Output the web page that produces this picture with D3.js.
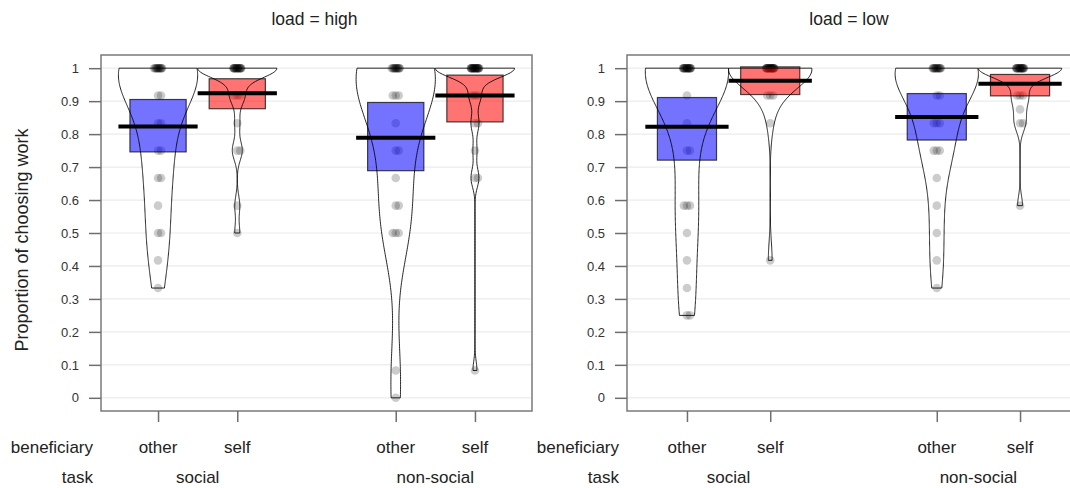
<!DOCTYPE html>
<html>
<head>
<meta charset="utf-8">
<script src="https://cdn.jsdelivr.net/npm/d3@7"></script>
<style>
  body { margin: 0; background: #fff; }
  text { font-family: "Liberation Sans", Arial, sans-serif; }
</style>
</head>
<body>
<svg id="chart" width="1070" height="488"></svg>
<script>
const loads = ['high', 'low'];
const taskLabels = ['social', 'non-social'];
const beneficiaryLabels = ['other', 'self', 'other', 'self'];
const groupPos = [1, 2, 4, 5];
const taskPos = [1.5, 4.5];
const yTicks = [0, 0.1, 0.2, 0.3, 0.4, 0.5, 0.6, 0.7, 0.8, 0.9, 1];

// points as [value, count] pairs
const highSocialOther = [[1, 12], [0.917, 2], [0.833, 2], [0.75, 2], [0.667, 2], [0.583, 1], [0.5, 2], [0.417, 1], [0.333, 1]];
const highSocialSelf = [[1, 16], [0.917, 3], [0.833, 1], [0.75, 2], [0.583, 1], [0.5, 1]];
const highNonSocialOther = [[1, 12], [0.917, 3], [0.833, 1], [0.75, 2], [0.667, 1], [0.583, 2], [0.5, 3], [0.083, 1], [0, 1]];
const highNonSocialSelf = [[1, 20], [0.917, 3], [0.833, 2], [0.75, 1], [0.667, 2], [0.083, 1]];
const lowSocialOther = [[1, 17], [0.917, 1], [0.833, 1], [0.75, 2], [0.583, 3], [0.5, 1], [0.417, 1], [0.333, 1], [0.25, 2]];
const lowSocialSelf = [[1, 21], [0.917, 3], [0.833, 1], [0.417, 1]];
const lowNonSocialOther = [[1, 13], [0.917, 2], [0.833, 3], [0.75, 3], [0.667, 1], [0.583, 1], [0.5, 1], [0.417, 1], [0.333, 1]];
const lowNonSocialSelf = [[1, 17], [0.917, 3], [0.875, 1], [0.833, 2], [0.583, 1]];

// means and inference bands (box)
const highMeans = [0.823, 0.924, 0.789, 0.917];
const highBoxLow = [0.746, 0.877, 0.689, 0.837];
const highBoxHigh = [0.905, 0.968, 0.896, 0.979];
const lowMeans = [0.822, 0.962, 0.852, 0.953];
const lowBoxLow = [0.721, 0.92, 0.782, 0.916];
const lowBoxHigh = [0.911, 1.004, 0.923, 0.981];

const boxColors = ['rgb(0,0,255)', 'rgb(255,0,0)', 'rgb(0,0,255)', 'rgb(255,0,0)'];

const panels = [
  { load: 'high', x0: 101, x1: 532, groups: [highSocialOther, highSocialSelf, highNonSocialOther, highNonSocialSelf], means: highMeans, lo: highBoxLow, hi: highBoxHigh },
  { load: 'low', x0: 627, x1: 1080, groups: [lowSocialOther, lowSocialSelf, lowNonSocialOther, lowNonSocialSelf], means: lowMeans, lo: lowBoxLow, hi: lowBoxHigh },
];

const plotTop = 55, plotBottom = 411;
const svg = d3.select('#chart');
const y = d3.scaleLinear().domain([-0.04, 1.04]).range([plotBottom, plotTop]);

function expand(pairs) {
  return pairs.flatMap(([v, n]) => d3.range(n).map(() => v));
}

// R's bw.nrd0
function bandwidth(vals) {
  const sorted = vals.slice().sort(d3.ascending);
  const sd = d3.deviation(sorted);
  const iqr = d3.quantileSorted(sorted, 0.75) - d3.quantileSorted(sorted, 0.25);
  let lo = Math.min(sd, iqr / 1.34);
  if (!(lo > 0)) lo = sd || Math.abs(sorted[0]) || 1;
  return 0.9 * lo * Math.pow(vals.length, -0.2);
}

function density(vals) {
  const bw = bandwidth(vals);
  const [mn, mx] = d3.extent(vals);
  const steps = 200;
  return d3.range(steps + 1).map((i) => {
    const t = mn + (mx - mn) * i / steps;
    const d = d3.mean(vals, (v) => Math.exp(-0.5 * ((t - v) / bw) ** 2));
    return [t, d];
  });
}

const jitterSeq = [0, 3, -3, 1.5, -1.5, 4, -4, 2, -2, 0.5, -0.5, 3.5, -3.5];

panels.forEach((p) => {
  const x = d3.scaleLinear().domain([0.28, 5.72]).range([p.x0, p.x1]);
  const unit = x(1) - x(0);
  const g = svg.append('g');
  const clipId = 'clip-' + p.load;
  svg.append('clipPath').attr('id', clipId)
    .append('rect').attr('x', p.x0).attr('y', plotTop).attr('width', p.x1 - p.x0).attr('height', plotBottom - plotTop);
  const plot = g.append('g').attr('clip-path', `url(#${clipId})`);

  // grid
  plot.selectAll('line.grid').data(yTicks).join('line')
    .attr('x1', p.x0).attr('x2', p.x1)
    .attr('y1', (d) => y(d)).attr('y2', (d) => y(d))
    .attr('stroke', '#ebebeb').attr('stroke-width', 1.2);

  const beans = p.groups.map((pairs, i) => {
    const vals = expand(pairs);
    const dens = density(vals);
    const maxD = d3.max(dens, (d) => d[1]);
    const area = d3.area()
      .x0((d) => x(groupPos[i]) - (d[1] / maxD) * 0.5 * unit)
      .x1((d) => x(groupPos[i]) + (d[1] / maxD) * 0.5 * unit)
      .y((d) => y(d[0]));
    return { vals, path: area(dens) };
  });

  // bean fill
  plot.selectAll('path.bean-fill').data(beans).join('path')
    .attr('d', (d) => d.path).attr('fill', '#fff');

  // points
  beans.forEach((b, i) => {
    const seen = {};
    const pts = b.vals.map((v) => {
      seen[v] = (seen[v] || 0) + 1;
      return { v, j: jitterSeq[(seen[v] - 1) % jitterSeq.length] };
    });
    plot.append('g').selectAll('circle').data(pts).join('circle')
      .attr('cx', (d) => x(groupPos[i]) + d.j)
      .attr('cy', (d) => y(d.v))
      .attr('r', 4.3)
      .attr('fill', 'rgba(0,0,0,0.2)');
  });

  // inference boxes
  plot.selectAll('rect.inf').data(groupPos).join('rect')
    .attr('x', (d) => x(d) - 0.355 * unit)
    .attr('width', 0.71 * unit)
    .attr('y', (d, i) => y(p.hi[i]))
    .attr('height', (d, i) => y(p.lo[i]) - y(p.hi[i]))
    .attr('fill', (d, i) => boxColors[i]).attr('fill-opacity', 0.55)
    .attr('stroke', 'rgba(0,0,0,0.7)').attr('stroke-width', 1.2);

  // bean outline
  plot.selectAll('path.bean-line').data(beans).join('path')
    .attr('d', (d) => d.path).attr('fill', 'none')
    .attr('stroke', 'rgba(0,0,0,0.85)').attr('stroke-width', 1);

  // mean lines
  plot.selectAll('line.avg').data(groupPos).join('line')
    .attr('x1', (d) => x(d) - 0.5 * unit).attr('x2', (d) => x(d) + 0.5 * unit)
    .attr('y1', (d, i) => y(p.means[i])).attr('y2', (d, i) => y(p.means[i]))
    .attr('stroke', '#000').attr('stroke-width', 4);

  // frame
  g.append('rect')
    .attr('x', p.x0).attr('y', plotTop).attr('width', p.x1 - p.x0).attr('height', plotBottom - plotTop)
    .attr('fill', 'none').attr('stroke', '#7a7a7a').attr('stroke-width', 1.5);

  // y axis
  const yAxis = g.append('g').attr('transform', `translate(${p.x0},0)`)
    .call(d3.axisLeft(y).tickValues(yTicks).tickSize(12).tickPadding(10)
      .tickFormat((d) => (d === 0 || d === 1 ? d3.format('d')(d) : d3.format('.1f')(d))));
  yAxis.select('.domain').remove();
  yAxis.selectAll('line').attr('stroke', '#6e6e6e').attr('stroke-width', 1.5);
  yAxis.selectAll('text').attr('font-size', 13).attr('fill', '#333')
    .style('font-family', '"Liberation Sans", Arial, sans-serif');

  // x axis ticks
  const xAxis = g.append('g').attr('transform', `translate(0,${plotBottom})`)
    .call(d3.axisBottom(x).tickValues(groupPos).tickSize(11).tickFormat(''));
  xAxis.select('.domain').remove();
  xAxis.selectAll('line').attr('stroke', '#6e6e6e').attr('stroke-width', 1.5);

  // title
  g.append('text').attr('x', (p.x0 + Math.min(p.x1, 1075)) / 2 - 2).attr('y', 25)
    .attr('text-anchor', 'middle').attr('font-size', 17.5).attr('fill', '#222')
    .text(`load = ${p.load}`);

  // bottom labels
  g.selectAll('text.ben').data(groupPos).join('text')
    .attr('x', (d) => x(d)).attr('y', 453)
    .attr('text-anchor', 'middle').attr('font-size', 17).attr('fill', '#222')
    .text((d, i) => beneficiaryLabels[i]);
  g.selectAll('text.task').data(taskPos).join('text')
    .attr('x', (d) => x(d)).attr('y', 483)
    .attr('text-anchor', 'middle').attr('font-size', 17).attr('fill', '#222')
    .text((d, i) => taskLabels[i]);
  g.append('text').attr('x', p.x0 - 8).attr('y', 453)
    .attr('text-anchor', 'end').attr('font-size', 17).attr('fill', '#222').text('beneficiary');
  g.append('text').attr('x', p.x0 - 8).attr('y', 483)
    .attr('text-anchor', 'end').attr('font-size', 17).attr('fill', '#222').text('task');
});

svg.append('text')
  .attr('transform', 'translate(28,240) rotate(-90)')
  .attr('text-anchor', 'middle').attr('font-size', 18).attr('fill', '#222')
  .text('Proportion of choosing work');
</script>
</body>
</html>
